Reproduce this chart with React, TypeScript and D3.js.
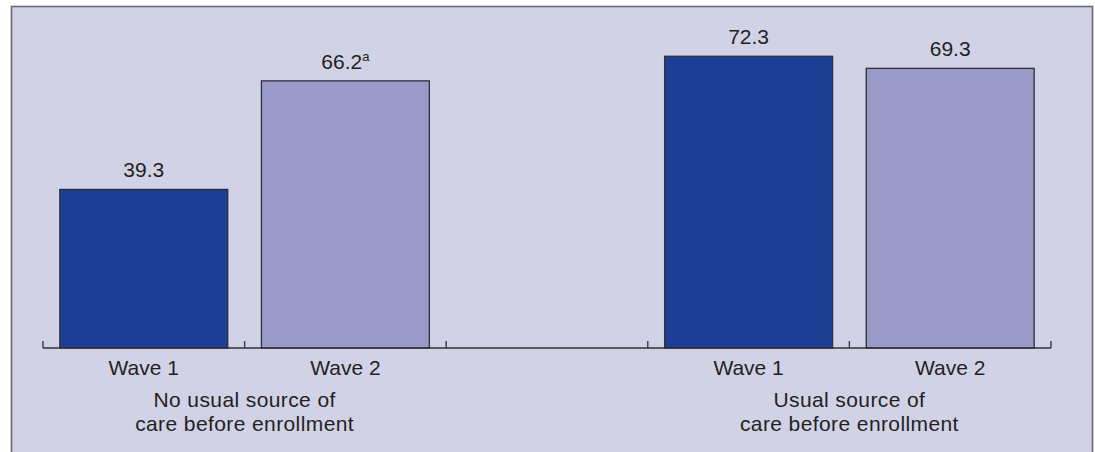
import React from "react";
import * as d3 from "d3";

const groupLabels = [
  ["No usual source of", "care before enrollment"],
  ["Usual source of", "care before enrollment"],
];
const waves = ["Wave 1", "Wave 2"];
const group0Values = [39.3, 66.2];
const group1Values = [72.3, 69.3];
const group0Notes = ["", "a"];
const group1Notes = ["", ""];
const slots = ["g0-w0", "g0-w1", "gap", "g1-w0", "g1-w1"];

const W = 1095;
const H = 452;
const baseY = 348;
const FONT = "'Liberation Sans', Arial, Helvetica, sans-serif";
const TEXT = "#231f20";

export default function App() {
  const x = d3
    .scaleBand<string>()
    .domain(slots)
    .range([43, 1051])
    .paddingInner(0.167)
    .paddingOuter(0.0835);
  const y = d3.scaleLinear().domain([0, 80]).range([baseY, baseY - 322.8]);
  const step = x.step();
  const x0 = 43;

  const bars = [
    ...group0Values.map((v, i) => ({ key: `g0-w${i}`, v, note: group0Notes[i], wave: i })),
    ...group1Values.map((v, i) => ({ key: `g1-w${i}`, v, note: group1Notes[i], wave: i })),
  ];
  const colors = ["#1c3f95", "#9a9aca"];
  const tickXs = d3.range(slots.length + 1).map((i) => x0 + i * step);

  return (
    <svg
      width={W}
      height={H}
      style={{ position: "fixed", left: 0, top: 0, display: "block" }}
      fontFamily={FONT}
    >
      <rect x={0} y={0} width={W} height={H} fill="#ffffff" />
      <rect
        x={11.5}
        y={6.5}
        width={1081}
        height={470}
        fill="#d2d2e7"
        stroke="#6a6a70"
        strokeWidth={1.6}
      />
      {bars.map((b) => {
        const bx = x(b.key)!;
        const by = y(b.v);
        return (
          <g key={b.key}>
            <rect
              x={bx}
              y={by}
              width={x.bandwidth()}
              height={baseY - by}
              fill={colors[b.wave]}
              stroke="#2f2f36"
              strokeWidth={1.3}
            />
            <text
              x={bx + x.bandwidth() / 2}
              y={by - 12}
              textAnchor="middle"
              fontSize={21}
              fill={TEXT}
            >
              {b.v.toFixed(1)}
              {b.note ? (
                <tspan fontSize={13} dy={-8}>
                  {b.note}
                </tspan>
              ) : null}
            </text>
            <text
              x={bx + x.bandwidth() / 2}
              y={375}
              textAnchor="middle"
              fontSize={21}
              fill={TEXT}
            >
              {waves[b.wave]}
            </text>
          </g>
        );
      })}
      <line x1={x0} x2={x0 + slots.length * step} y1={baseY} y2={baseY} stroke="#2f2f36" strokeWidth={1.3} />
      {tickXs.map((tx, i) => (
        <line key={i} x1={tx} x2={tx} y1={baseY} y2={baseY - 7} stroke="#2f2f36" strokeWidth={1.3} />
      ))}
      {groupLabels.map((lines, gi) => {
        const cx = x0 + (gi === 0 ? 1 : 4) * step;
        return (
          <text key={gi} x={cx} textAnchor="middle" fontSize={21} letterSpacing={0.4} fill={TEXT}>
            {lines.map((l, li) => (
              <tspan key={li} x={cx} y={406.5 + li * 24}>
                {l}
              </tspan>
            ))}
          </text>
        );
      })}
    </svg>
  );
}
